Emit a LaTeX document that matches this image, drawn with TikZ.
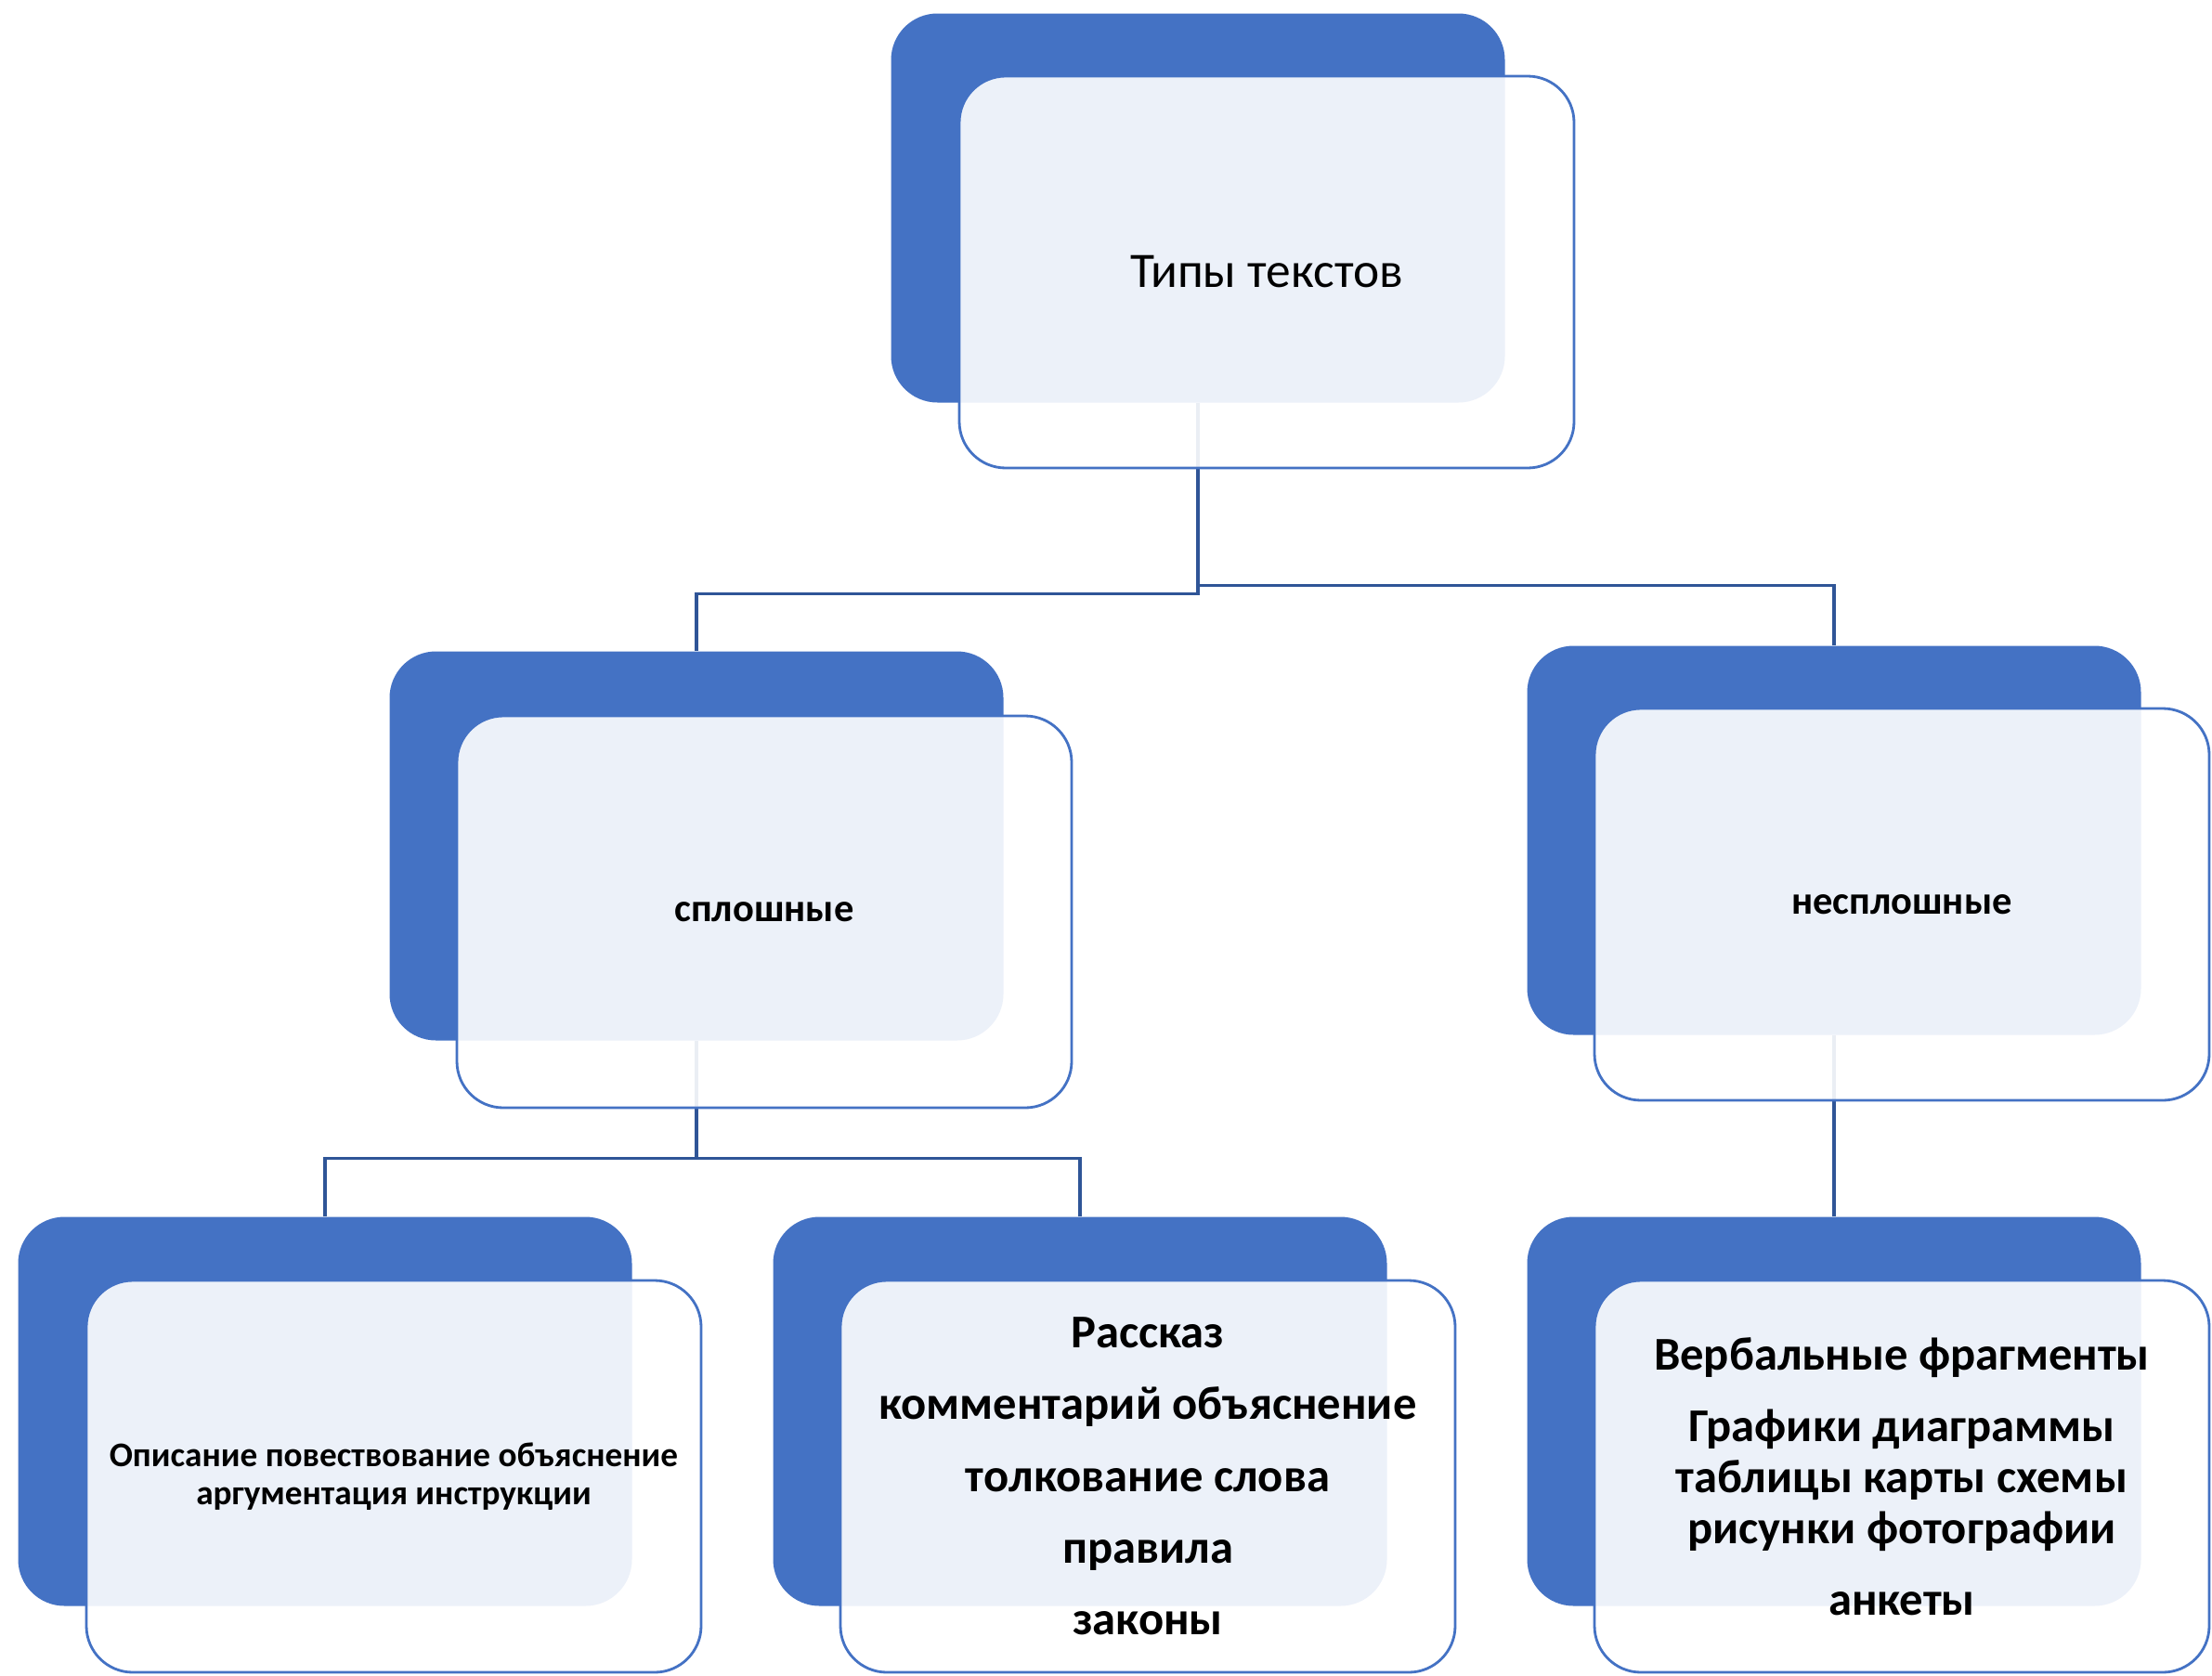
\documentclass[tikz,border=0pt]{standalone}
\usepackage{fontspec}
\setmainfont{Carlito}
\definecolor{smblue}{HTML}{4472C4}
\definecolor{smline}{HTML}{2F5597}
\tikzset{
  backbox/.style={fill=smblue, rounded corners=0.5cm, minimum width=6.61cm, minimum height=4.19cm, inner sep=0pt},
  frontbox/.style={draw=smblue, line width=0.8pt, fill=white, fill opacity=0.9, text opacity=1, rounded corners=0.5cm, minimum width=6.62cm, minimum height=4.22cm, align=center, inner sep=0pt},
  link/.style={draw=smline, line width=0.9pt}
}
\begin{document}
\begin{tikzpicture}
\useasboundingbox (0,0) rectangle (23.82,-18.04);
\node[backbox] (typesb) at (12.90,-2.24) {};
\node[backbox] (solidb) at (7.50,-9.11) {};
\node[backbox] (nonsolidb) at (19.75,-9.05) {};
\node[backbox] (kindsb) at (3.50,-15.20) {};
\node[backbox] (genresb) at (11.63,-15.20) {};
\node[backbox] (formsb) at (19.75,-15.20) {};
\draw[link] (typesb.south) -- ++(0,-2.05) -| (solidb.north);
\draw[link] (typesb.south) -- ++(0,-1.96) -| (nonsolidb.north);
\draw[link] (solidb.south) -- ++(0,-1.26) -| (kindsb.north);
\draw[link] (solidb.south) -- ++(0,-1.26) -| (genresb.north);
\draw[link] (nonsolidb.south) -- (formsb.north);
\node[frontbox, font=\fontsize{15.2}{18}\selectfont] (types) at (13.64,-2.93) {Типы текстов};
\node[frontbox, font=\fontsize{12.1}{14}\selectfont\bfseries] (solid) at (8.23,-9.82) {сплошные};
\node[frontbox, font=\fontsize{12.1}{14}\selectfont\bfseries] (nonsolid) at (20.48,-9.74) {несплошные};
\node[frontbox, font=\fontsize{10.6}{11.7}\selectfont\bfseries] (kinds) at (4.24,-15.90) {Описание повествование объяснение\\аргументация инструкции};
\node[frontbox, font=\fontsize{14.4}{22}\selectfont\bfseries] (genres) at (12.36,-15.90) {Рассказ\\комментарий объяснение\\толкование слова\\правила\\законы};
\node[frontbox, font=\fontsize{14.4}{15.6}\selectfont\bfseries] (forms) at (20.48,-15.90) {Вербальные фрагменты\\[6.4pt]Графики диаграммы\\таблицы карты схемы\\рисунки фотографии\\[6.4pt]анкеты};
\end{tikzpicture}
\end{document}
